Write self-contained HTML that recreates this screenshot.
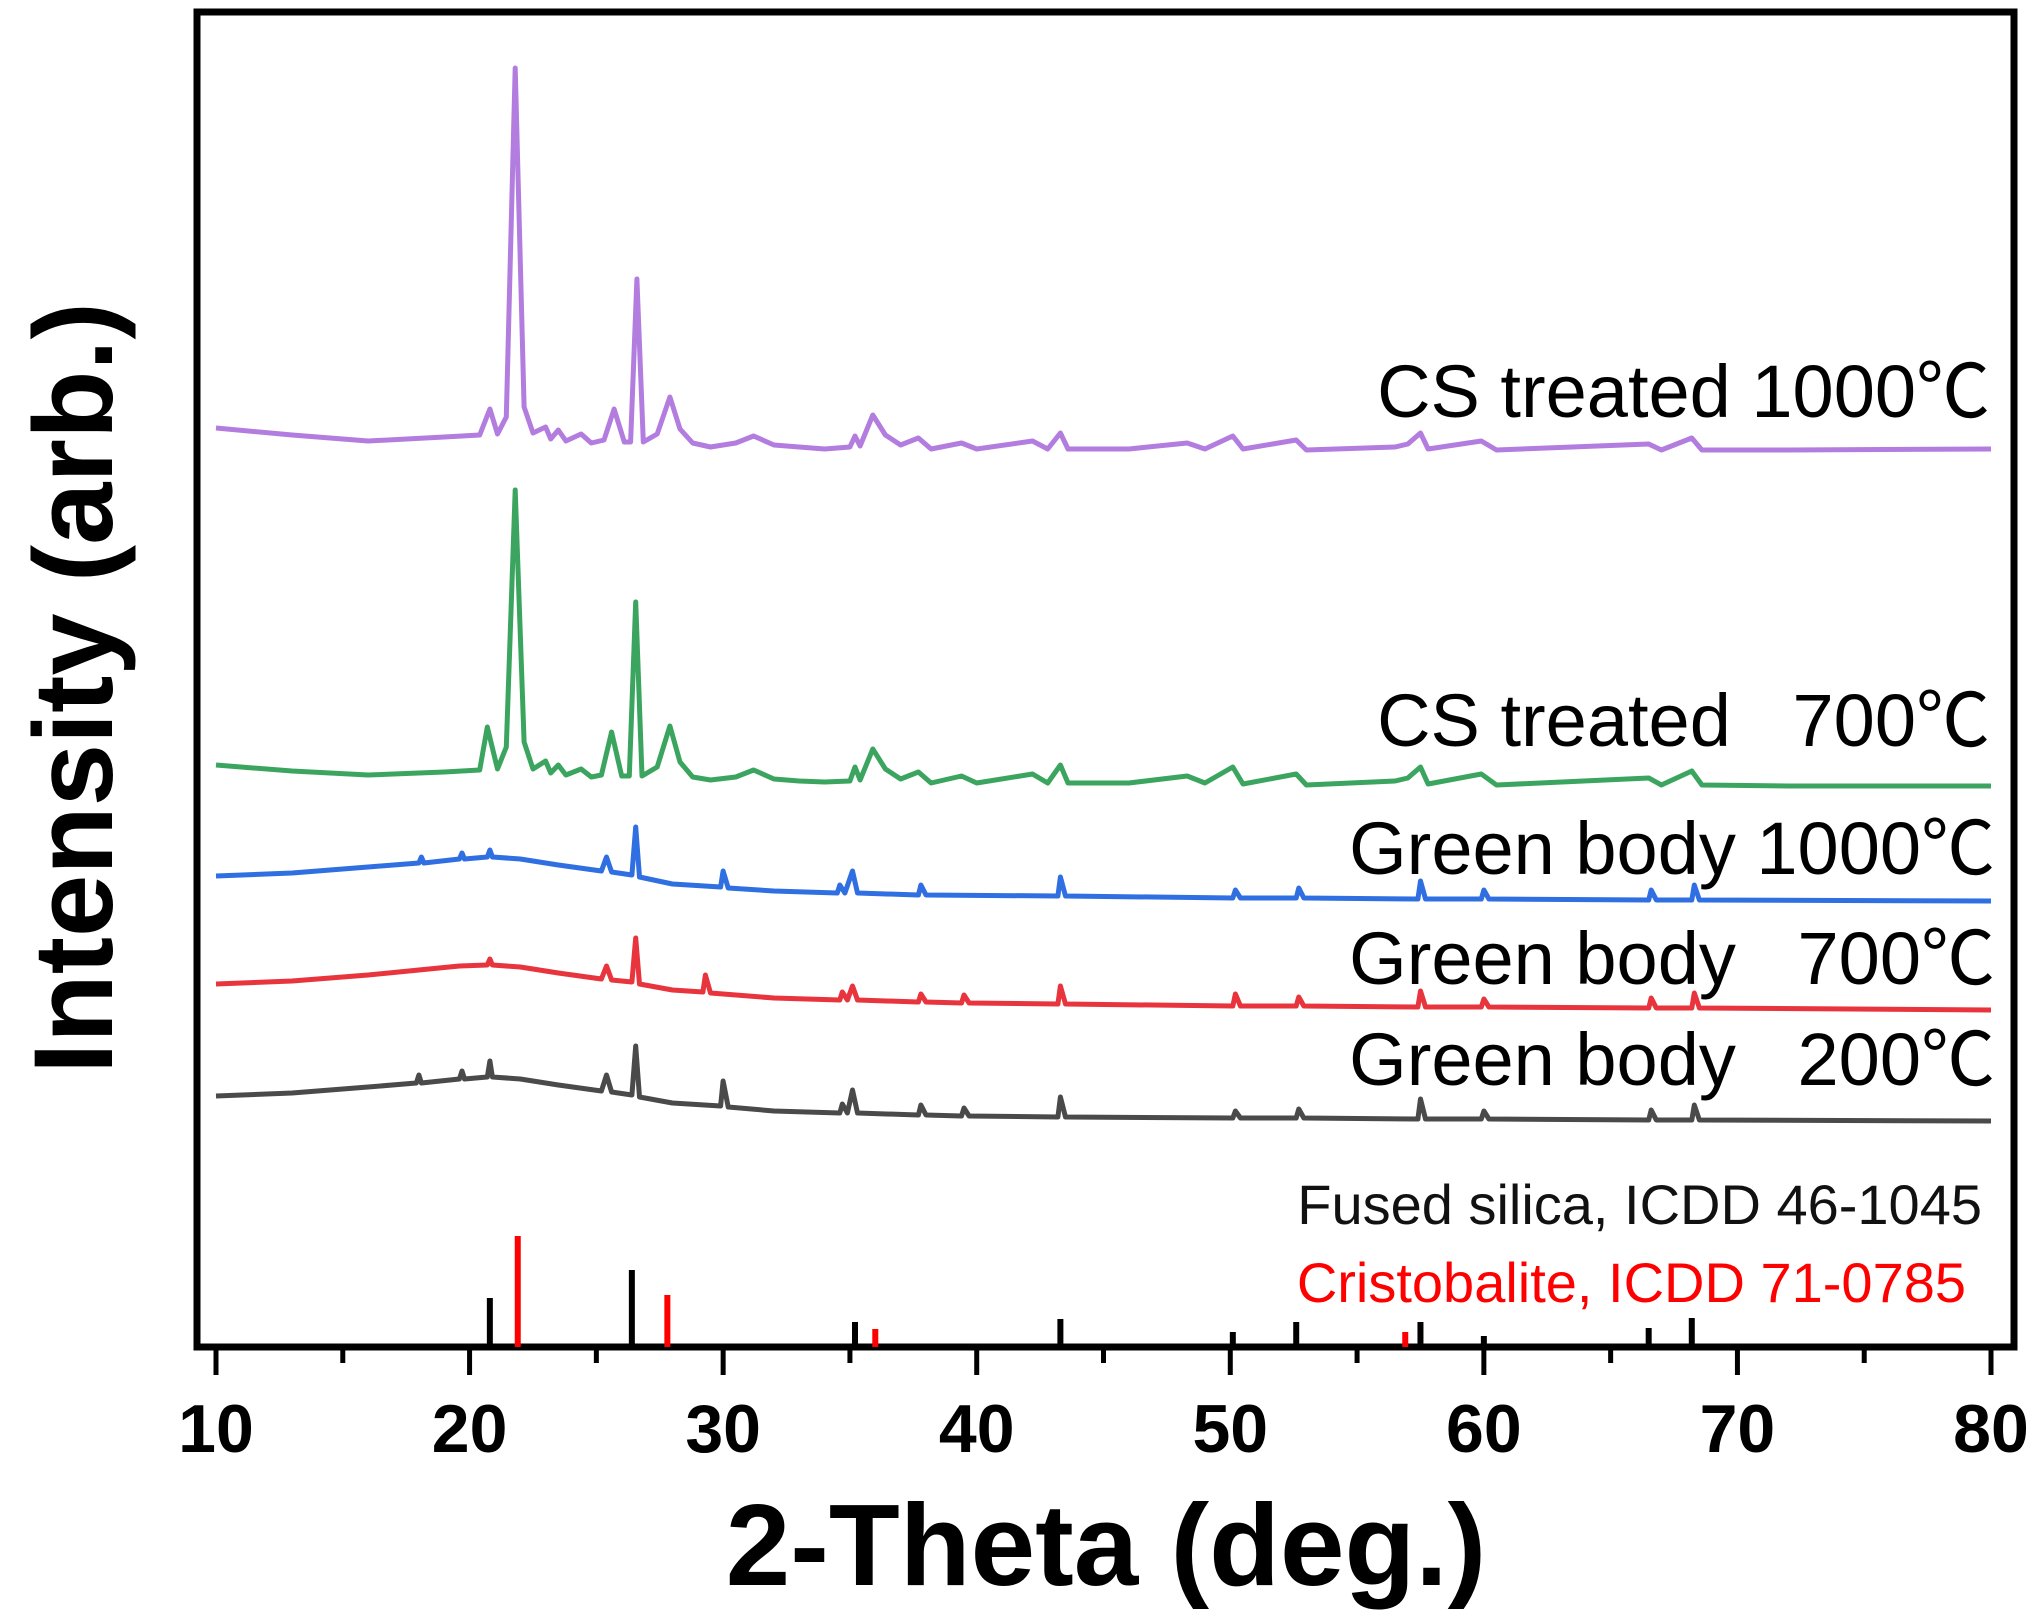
<!DOCTYPE html>
<html><head><meta charset="utf-8"><style>
html,body{margin:0;padding:0;background:#fff;}
svg{display:block;}
text{font-family:"Liberation Sans","Noto Sans CJK SC",sans-serif;}
</style></head><body>
<svg id="chart" width="2041" height="1611" viewBox="0 0 2041 1611" xmlns="http://www.w3.org/2000/svg">
<rect x="197" y="12" width="1817" height="1335" fill="none" stroke="#000" stroke-width="7"/>
<g id="marks"></g>
<g id="axis"></g>
<text transform="translate(112,688) rotate(-90)" text-anchor="middle" font-size="112" font-weight="bold">Intensity (arb.)</text>
<text x="1106" y="1585" text-anchor="middle" font-size="116" font-weight="bold">2-Theta (deg.)</text>
<text x="1990" y="417" text-anchor="end" font-size="74">CS treated 1000℃</text>
<text x="1990" y="746" text-anchor="end" font-size="74" xml:space="preserve">CS treated   700℃</text>
<text x="1995" y="874" text-anchor="end" font-size="74">Green body 1000℃</text>
<text x="1995" y="984" text-anchor="end" font-size="74" xml:space="preserve">Green body   700℃</text>
<text x="1995" y="1085" text-anchor="end" font-size="74" xml:space="preserve">Green body   200℃</text>
<text x="1982" y="1224" text-anchor="end" font-size="56" fill="#111">Fused silica, ICDD 46-1045</text>
<text x="1966" y="1302" text-anchor="end" font-size="56" fill="#f00">Cristobalite, ICDD 71-0785</text>
</svg>
<script>
const xTicks=[10,20,30,40,50,60,70,80];
const xMinor=[15,25,35,45,55,65,75];
const fusedPos=[20.8,26.4,35.2,43.3,50.1,52.6,57.5,60.0,66.5,68.2];
const fusedInt=[49,77,25,28,15,25,25,11,19,29];
const cristPos=[21.9,27.8,36.0,56.9];
const cristInt=[111,52,18,15];
const purple=[[10,919],[13,912],[16,906],[19,910],[20.4,912],[20.8,938],[21.1,913],[21.45,930],[21.8,1279],[22.15,940],[22.5,914],[23,920],[23.2,908],[23.5,917],[23.8,906],[24.4,913],[24.8,904],[25.3,907],[25.7,938],[26.1,905],[26.35,905],[26.6,1068],[26.85,905],[27.4,913],[27.9,950],[28.3,918],[28.8,904],[29.5,900],[30.5,904],[31.2,911],[32,902],[33,900],[34,898],[35,900],[35.2,911],[35.4,901],[35.9,932],[36.4,912],[37,902],[37.7,909],[38.2,898],[39.4,904],[40,898],[42.2,906],[42.8,898],[43.3,914],[43.6,898],[46,898],[48.3,904],[49,898],[50.1,911],[50.5,898],[52.6,907],[53,897],[56.5,900],[57,903],[57.5,914],[57.8,898],[59.9,906],[60.5,897],[66.5,903],[67,897],[68.2,909],[68.6,897],[72,897],[80,898]];
const green=[[10,582],[13,576],[16,572],[19,575],[20.4,577],[20.7,620],[21.1,578],[21.45,600],[21.8,857],[22.15,605],[22.5,578],[23,586],[23.2,574],[23.5,582],[23.8,572],[24.4,578],[24.8,570],[25.2,572],[25.6,615],[26.0,571],[26.3,571],[26.55,745],[26.8,571],[27.4,580],[27.9,621],[28.3,585],[28.8,570],[29.5,567],[30.5,570],[31.2,577],[32,568],[33,566],[34,565],[35,566],[35.2,580],[35.4,567],[35.9,598],[36.4,578],[37,568],[37.7,575],[38.2,564],[39.4,571],[40,564],[42.2,573],[42.8,564],[43.3,582],[43.6,564],[46,564],[48.3,571],[49,564],[50.1,580],[50.5,563],[52.6,573],[53,562],[56.5,566],[57,569],[57.5,580],[57.8,563],[59.9,573],[60.5,562],[66.5,569],[67,562],[68.2,576],[68.6,562],[72,561],[80,561]];
const blue=[[10,471],[13,474],[16,480],[18,484],[18.1,490],[18.2,484],[19.6,488],[19.7,494],[19.8,488],[20.7,490],[20.8,497],[20.9,490],[22,488],[23.5,482],[25.2,476],[25.4,490],[25.6,475],[26.4,472],[26.55,520],[26.7,470],[28,463],[29.9,460],[30.0,476],[30.2,459],[32,456],[34.5,454],[34.6,462],[34.8,454],[35.1,476],[35.3,454],[37.7,452],[37.8,462],[38,452],[43.2,451],[43.3,470],[43.5,451],[50.1,449],[50.2,457],[50.4,449],[52.6,449],[52.7,459],[52.9,449],[57.4,448],[57.5,466],[57.7,448],[59.9,448],[60,457],[60.2,448],[66.5,447],[66.6,457],[66.8,447],[68.2,447],[68.3,462],[68.5,447],[80,446]];
const red=[[10,363],[13,366],[16,372],[18,377],[19.6,381],[20.7,382],[20.8,388],[20.9,382],[22,380],[23.5,374],[25.2,368],[25.4,381],[25.6,367],[26.4,365],[26.55,409],[26.7,363],[28,357],[29.2,355],[29.3,372],[29.5,354],[32,349],[34.6,347],[34.7,355],[34.9,347],[35.1,361],[35.3,347],[37.7,345],[37.8,353],[38,345],[39.4,344],[39.5,352],[39.7,344],[43.2,343],[43.3,361],[43.5,343],[50.1,341],[50.2,353],[50.4,341],[52.6,341],[52.7,350],[52.9,341],[57.4,340],[57.5,356],[57.7,340],[59.9,340],[60,348],[60.2,340],[66.5,339],[66.6,349],[66.8,339],[68.2,339],[68.3,354],[68.5,339],[80,337]];
const gray=[[10,251],[13,254],[16,260],[17.9,264],[18,272],[18.1,264],[19.6,268],[19.7,276],[19.8,268],[20.7,270],[20.8,286],[20.9,270],[22,268],[23.5,262],[25.2,256],[25.4,272],[25.6,255],[26.4,252],[26.55,301],[26.7,250],[28,244],[29.9,241],[30.0,266],[30.2,240],[32,236],[34.6,234],[34.7,243],[34.9,234],[35.1,257],[35.3,234],[37.7,232],[37.8,242],[38,232],[39.4,231],[39.5,239],[39.7,231],[43.2,230],[43.3,250],[43.5,230],[50.1,229],[50.2,236],[50.4,229],[52.6,229],[52.7,238],[52.9,229],[57.4,228],[57.5,248],[57.7,228],[59.9,228],[60,236],[60.2,228],[66.5,227],[66.6,237],[66.8,227],[68.2,227],[68.3,242],[68.5,227],[80,226]];

const X0=216,X1=1991,AXY=1347;
function xs(v){return X0+(v-10)*(X1-X0)/70;}
function ys(v){return AXY-v;}
const NS='http://www.w3.org/2000/svg';
const marks=document.getElementById('marks');
const axis=document.getElementById('axis');
function mk(tag,attrs,parent){const e=document.createElementNS(NS,tag);for(const k in attrs)e.setAttribute(k,attrs[k]);parent.appendChild(e);return e;}
const series=[[purple,'#b27ddf','series-cs-1000'],[green,'#3ba55f','series-cs-700'],[blue,'#2f6fe2','series-green-1000'],[red,'#e8343c','series-green-700'],[gray,'#4a4a4a','series-green-200']];
series.forEach(s=>{
  const d=s[0].map((p,i)=>(i?'L':'M')+xs(p[0]).toFixed(1)+','+ys(p[1]).toFixed(1)).join('');
  const p=mk('path',{d:d,fill:'none',stroke:s[1],'stroke-width':5,'stroke-linejoin':'round'},marks);
  
  
});
fusedPos.forEach((v,i)=>{
  const l=mk('line',{x1:xs(v),x2:xs(v),y1:AXY,y2:ys(fusedInt[i]),stroke:'#000','stroke-width':6},marks);
  
  
});
cristPos.forEach((v,i)=>{
  const l=mk('line',{x1:xs(v),x2:xs(v),y1:AXY,y2:ys(cristInt[i]),stroke:'#f00','stroke-width':6},marks);
  
  
});
xTicks.forEach(v=>{
  const t=mk('line',{x1:xs(v),x2:xs(v),y1:AXY,y2:AXY+28,stroke:'#000','stroke-width':5},axis);
  
  
  const tx=mk('text',{x:xs(v),y:1452,'text-anchor':'middle','font-size':68,'font-weight':'bold'},axis);
  tx.textContent=v;
  
  
});
xMinor.forEach(v=>{
  const t=mk('line',{x1:xs(v),x2:xs(v),y1:AXY,y2:AXY+16,stroke:'#000','stroke-width':5},axis);
  
  
});
</script>
</body></html>
